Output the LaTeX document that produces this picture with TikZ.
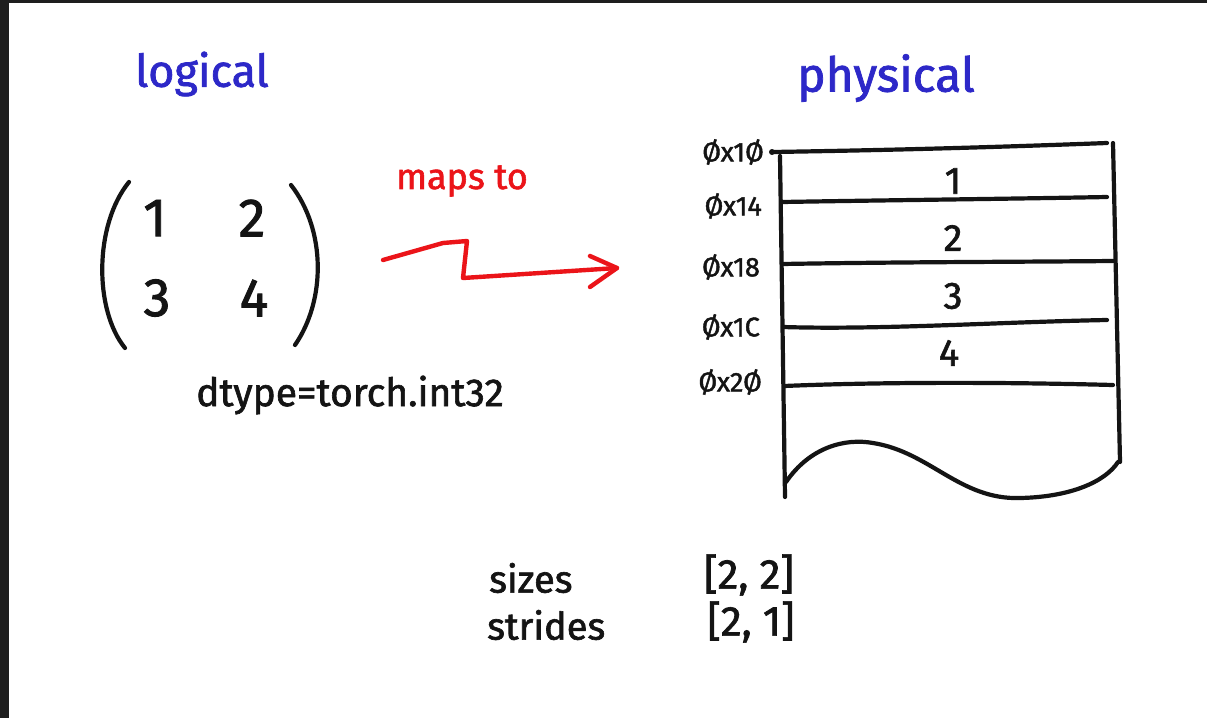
\documentclass[tikz,border=0pt]{standalone}
\usepackage{fontspec}
\setmainfont{Fira Sans}[BoldFont={*},BoldFeatures={FakeBold=1.6}]
\definecolor{ink}{RGB}{20,20,20}
\definecolor{hblue}{RGB}{45,40,200}
\definecolor{hred}{RGB}{235,20,25}
\definecolor{framegray}{RGB}{30,30,30}
\newcommand{\fs}[1]{\fontsize{#1}{#1}\selectfont\bfseries}
\begin{document}
\begin{tikzpicture}[x=1pt,y=-1pt,
  txt/.style={inner sep=0pt, text=ink},
  title/.style={inner sep=0pt, text=hblue, font=\fs{45}},
  mtx/.style={inner sep=0pt, text=ink, font=\fs{54}},
  cell/.style={inner sep=0pt, text=ink, font=\fs{38}},
  addr/.style={inner sep=0pt, text=ink, font=\fs{27}, anchor=east},
  pen/.style={draw=ink, line width=4.2pt, line cap=round, line join=round},
  redpen/.style={draw=hred, line width=4.4pt, line cap=round, line join=round}]
\useasboundingbox (0,0) rectangle (1207,718);
\fill[white] (0,0) rectangle (1207,718);
\fill[framegray] (0,0) rectangle (1207,3);
\fill[framegray] (0,0) rectangle (9,718);

% titles
\node[title] (logical) at (202,74) {logical};
\node[title, font=\fs{48}] (physical) at (886,78) {physical};

% matrix
\node[mtx] (m11) at (155,218) {1};
\node[mtx] (m12) at (252,218) {2};
\node[mtx] (m21) at (157,298) {3};
\node[mtx] (m22) at (254,298) {4};
\draw[pen] (129,182) .. controls (94,225) and (94,310) .. (125,348);
\draw[pen] (291,185) .. controls (326,230) and (326,300) .. (295,345);
\node[txt, font=\fs{39}] (dtype) at (350,395) {dtype=torch.int32};

% maps to arrow
\node[inner sep=0pt, text=hred, font=\fs{36}] (maps) at (462,181) {maps to};
\coordinate (a0) at (383,260);
\coordinate (a1) at (443,243);
\coordinate (a2) at (467,241);
\coordinate (a3) at (463,278);
\coordinate (a4) at (617,268);
\coordinate (h1) at (590,256);
\coordinate (h2) at (590,287);
\draw[redpen] (a0) -- (a1) -- (a2) -- (a3) -- (a4);
\draw[redpen] (h1) -- (a4) -- (h2);

% memory block
\coordinate (tl) at (772,152);
\coordinate (tr) at (1107,143);
\coordinate (lt) at (780,156);
\coordinate (lb) at (785,497);
\coordinate (rt) at (1113,143);
\coordinate (rb) at (1120,462);
\fill[ink] (tl) circle (3);
\draw[pen] (tl) .. controls (900,150) and (1000,147) .. (tr);
\draw[pen] (lt) -- (lb);
\draw[pen] (rt) -- (rb);
\draw[pen] (782,202) .. controls (900,200) and (1000,199) .. (1107,197);
\draw[pen] (782,264) .. controls (900,262) and (1000,262) .. (1113,261);
\draw[pen] (783,327) .. controls (880,330) and (1000,322) .. (1107,320);
\draw[pen] (784,386) .. controls (880,382) and (1000,382) .. (1113,385);
\draw[pen] (786,482) .. controls (810,447) and (845,438) .. (873,443)
  .. controls (930,452) and (960,500) .. (1020,498)
  .. controls (1070,497) and (1105,482) .. (1118,462);

\node[cell] (c1) at (953,181) {1};
\node[cell] (c2) at (953,238) {2};
\node[cell] (c3) at (953,296) {3};
\node[cell] (c4) at (949,353) {4};

\node[addr] (ad10) at (764,152) {Øx1Ø};
\node[addr] (ad14) at (762,206) {Øx14};
\node[addr] (ad18) at (760,267) {Øx18};
\node[addr] (ad1C) at (760,327) {Øx1C};
\node[addr] (ad20) at (762,382) {Øx2Ø};

% sizes / strides
\node[txt, font=\fs{38}, anchor=west] (sizes) at (489,578) {sizes};
\node[txt, font=\fs{38}, anchor=west] (strides) at (487,625) {strides};
\node[txt, font=\fs{42}] (sz) at (749,575) {[2, 2]};
\node[txt, font=\fs{42}] (st) at (751,622) {[2, 1]};
\end{tikzpicture}
\end{document}
